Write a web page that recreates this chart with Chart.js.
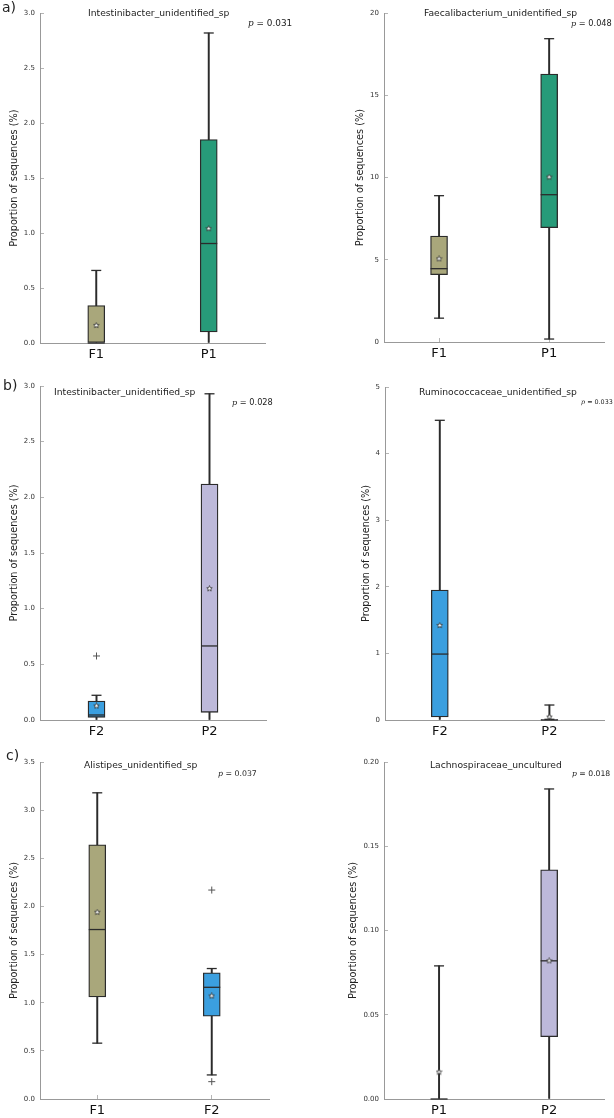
<!DOCTYPE html>
<html>
<head>
<meta charset="utf-8">
<script src="https://cdn.jsdelivr.net/npm/chart.js@4.4.1/dist/chart.umd.min.js"></script>
<style>
  body { margin: 0; background: #fff; }
  #figura { position: relative; width: 614px; height: 1118px; overflow: hidden; font-family: 'DejaVu Sans', sans-serif; }
  .painel { position: absolute; }
  .txt { position: absolute; white-space: nowrap; color: #222; line-height: 1; }
  .txt i { font-family: 'DejaVu Serif', serif; }
</style>
</head>
<body>
<div id="figura"></div>
<script>
// valores (um item por painel: a-esq, a-dir, b-esq, b-dir, c-esq, c-dir)
const letras = ['a)', 'b)', 'c)'];
const taxons = [
  'Intestinibacter_unidentified_sp',
  'Faecalibacterium_unidentified_sp',
  'Intestinibacter_unidentified_sp',
  'Ruminococcaceae_unidentified_sp',
  'Alistipes_unidentified_sp',
  'Lachnospiraceae_uncultured'
];
const valoresP = ['0.031', '0.048', '0.028', '0.033', '0.037', '0.018'];
const grupos = [['F1', 'P1'], ['F1', 'P1'], ['F2', 'P2'], ['F2', 'P2'], ['F1', 'F2'], ['P1', 'P2']];

const minimos  = [[0, 0],       [1.45, 0.18], [0, 0],       [0, 0.01],   [0.58, 0.25], [0, 0]];
const quartil1 = [[0, 0.10],    [4.1, 6.95],  [0.024, 0.069], [0.045, 0], [1.06, 0.86], [0, 0.037]];
const medianas = [[0, 0.905],   [4.46, 8.96], [0.045, 0.665], [0.99, 0],  [1.76, 1.16], [0, 0.082]];
const quartil3 = [[0.34, 1.85], [6.45, 16.3], [0.171, 2.12], [1.95, 0.01], [2.64, 1.31], [0, 0.136]];
const maximos  = [[0.66, 2.82], [8.9, 18.45], [0.222, 2.93], [4.5, 0.225], [3.18, 1.355], [0.079, 0.184]];
const medias   = [[0.16, 1.04], [5.06, 10.03], [0.126, 1.18], [1.42, 0.045], [1.94, 1.07], [0.016, 0.082]];
const outliers = [[[], []], [[], []], [[0.575], []], [[], []], [[], [2.17, 0.18]], [[], []]];

// eixo y: limite, passo e casas decimais dos rotulos
const yMaximo = [3, 20, 3, 5, 3.5, 0.2];
const yPasso = [0.5, 5, 0.5, 1, 0.5, 0.05];
const yCasas = [1, 0, 1, 0, 1, 2];

// estilo
const coresGrupo = { F1: '#a9a77b', P1: '#279b79', F2: '#3b9fdf', P2: '#bdb9da' };
const escuro = '#2b2b2b';

const geometria = [
  { x: 0,   y: 0,   w: 307, h: 370, esq: 40,  dir: 265, topo: 9,   base: 343,  tituloX: 14 },
  { x: 307, y: 0,   w: 307, h: 370, esq: 384, dir: 610, topo: 7,   base: 342,  tituloX: 360 },
  { x: 0,   y: 370, w: 307, h: 370, esq: 40,  dir: 266, topo: 386, base: 720,  tituloX: 14 },
  { x: 307, y: 370, w: 307, h: 370, esq: 385, dir: 611, topo: 387, base: 720,  tituloX: 366 },
  { x: 0,   y: 740, w: 307, h: 378, esq: 40,  dir: 269, topo: 762, base: 1099, tituloX: 14 },
  { x: 307, y: 740, w: 307, h: 378, esq: 384, dir: 612, topo: 762, base: 1099, tituloX: 353 }
];

const posTextos = [
  { tx: 88,  ty: 13,    px: 248, py: 23.3,  pf: 8.9 },
  { tx: 424, ty: 13,    px: 571, py: 23.3,  pf: 8.2 },
  { tx: 54,  ty: 392,   px: 232, py: 402.3, pf: 8.2 },
  { tx: 419, ty: 391.3, px: 581, py: 401.7, pf: 6.4 },
  { tx: 84,  ty: 764.3, px: 218, py: 773.5, pf: 7.8 },
  { tx: 430, ty: 764.3, px: 572, py: 773.5, pf: 7.7 }
];
const posLetras = [{ x: 2, y: 7 }, { x: 3, y: 385 }, { x: 6, y: 755 }];

const figura = document.getElementById('figura');

function texto(html, x, yCentro, tamanho) {
  const d = document.createElement('div');
  d.className = 'txt';
  d.innerHTML = html;
  d.style.left = x + 'px';
  d.style.top = (yCentro - tamanho / 2) + 'px';
  d.style.fontSize = tamanho + 'px';
  figura.appendChild(d);
}

// estrela branca de 5 pontas usada para a media
function fazerEstrela(tam) {
  const c = document.createElement('canvas');
  c.width = tam; c.height = tam;
  const ctx = c.getContext('2d');
  const r = tam / 2 - 0.6, ri = r * 0.45, cx = tam / 2, cy = tam / 2;
  ctx.beginPath();
  for (let k = 0; k < 10; k++) {
    const rr = k % 2 === 0 ? r : ri;
    const ang = -Math.PI / 2 + k * Math.PI / 5;
    ctx.lineTo(cx + rr * Math.cos(ang), cy + rr * Math.sin(ang));
  }
  ctx.closePath();
  ctx.fillStyle = '#fff';
  ctx.fill();
  ctx.strokeStyle = '#333';
  ctx.lineWidth = 0.8;
  ctx.stroke();
  return c;
}
const estrela = fazerEstrela(7);

function criarPainel(i) {
  const g = geometria[i];
  const wrap = document.createElement('div');
  wrap.className = 'painel';
  wrap.style.left = g.x + 'px';
  wrap.style.top = g.y + 'px';
  const canvas = document.createElement('canvas');
  canvas.width = g.w;
  canvas.height = g.h;
  wrap.appendChild(canvas);
  figura.appendChild(wrap);

  const labels = grupos[i];
  const tamTitulo = 9.7;
  const padEsq = g.tituloX - g.x - tamTitulo / 2;
  const ponto = (arr) => labels.map((l, k) => ({ x: l, y: arr[i][k] }));

  // tampa de baixo so aparece quando o minimo sai do eixo
  const tampaBaixo = ponto(minimos).filter(p => p.y > 0);

  const tampa = (dados) => ({
    type: 'line',
    data: dados,
    showLine: false,
    pointStyle: 'line',
    pointRadius: 5,
    borderColor: escuro,
    borderWidth: 1.3,
    clip: false,
    order: 4
  });

  new Chart(canvas.getContext('2d'), {
    type: 'bar',
    data: {
      labels: labels,
      datasets: [
        {
          type: 'bar',
          data: labels.map((l, k) => [minimos[i][k], quartil1[i][k]]),
          backgroundColor: escuro,
          borderWidth: 0,
          barThickness: 1.3,
          grouped: false,
          order: 6
        },
        {
          type: 'bar',
          data: labels.map((l, k) => [quartil3[i][k], maximos[i][k]]),
          backgroundColor: escuro,
          borderWidth: 0,
          barThickness: 1.3,
          grouped: false,
          order: 6
        },
        {
          type: 'bar',
          data: labels.map((l, k) => [quartil1[i][k], quartil3[i][k]]),
          backgroundColor: labels.map(l => coresGrupo[l]),
          borderColor: escuro,
          borderWidth: 1.3,
          borderSkipped: false,
          barThickness: 17,
          grouped: false,
          order: 5
        },
        tampa(ponto(maximos)),
        tampa(tampaBaixo),
        {
          type: 'line',
          data: ponto(medianas),
          showLine: false,
          pointStyle: 'line',
          pointRadius: 8.5,
          borderColor: escuro,
          borderWidth: 1.3,
          clip: false,
          order: 3
        },
        {
          type: 'line',
          data: ponto(medias),
          showLine: false,
          pointStyle: estrela,
          clip: false,
          order: 2
        },
        {
          type: 'line',
          data: labels.flatMap((l, k) => outliers[i][k].map(v => ({ x: l, y: v }))),
          showLine: false,
          pointStyle: 'cross',
          pointRadius: 3.5,
          borderColor: '#555',
          borderWidth: 1,
          clip: false,
          order: 1
        }
      ]
    },
    options: {
      responsive: false,
      animation: false,
      events: [],
      layout: {
        padding: { left: padEsq, top: g.topo - g.y, right: g.x + g.w - g.dir, bottom: 0 }
      },
      plugins: {
        legend: { display: false },
        tooltip: { enabled: false }
      },
      scales: {
        x: {
          type: 'category',
          offset: true,
          grid: { drawOnChartArea: false, offset: false, tickLength: -4, color: '#b5b5b5' },
          border: { color: '#999', width: 1 },
          ticks: { font: { family: 'DejaVu Sans', size: 13 }, color: '#111', padding: 8 },
          afterFit: s => { s.height = g.y + g.h - g.base; }
        },
        y: {
          min: 0,
          max: yMaximo[i],
          grid: { drawOnChartArea: false, tickLength: -4, color: '#b5b5b5' },
          border: { color: '#999', width: 1 },
          ticks: {
            stepSize: yPasso[i],
            font: { family: 'DejaVu Sans', size: 7 },
            color: '#333',
            padding: 9,
            callback: v => Number(v).toFixed(yCasas[i])
          },
          title: {
            display: true,
            text: 'Proportion of sequences (%)',
            font: { family: 'DejaVu Sans', size: tamTitulo, lineHeight: 1 },
            color: '#222',
            padding: 0
          },
          afterFit: s => { s.width = g.esq - g.x - padEsq; }
        }
      }
    }
  });

  const t = posTextos[i];
  texto(taxons[i], t.tx, t.ty, 9.2);
  texto('<i>p</i> = ' + valoresP[i], t.px, t.py, t.pf);
}

for (let i = 0; i < geometria.length; i++) criarPainel(i);
letras.forEach((l, k) => texto(l, posLetras[k].x, posLetras[k].y, 14));
</script>
</body>
</html>
